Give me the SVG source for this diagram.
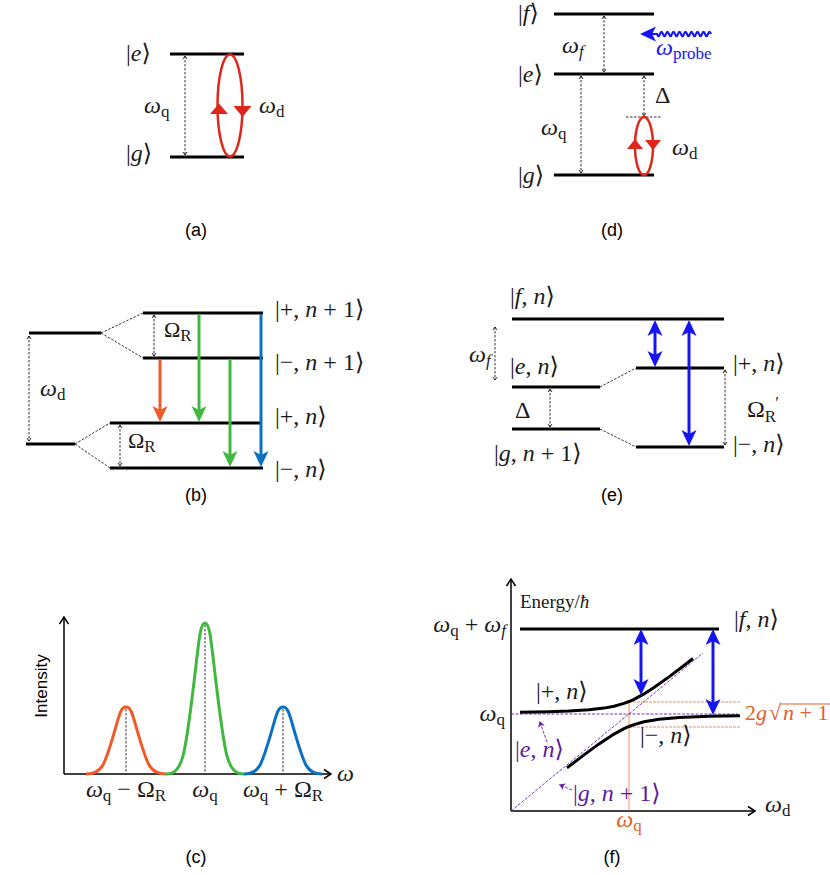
<svg xmlns="http://www.w3.org/2000/svg" width="830" height="875" viewBox="0 0 830 875">
<style>
.lv{stroke:#000;stroke-width:3;fill:none}
.dl{stroke:#000;stroke-width:0.8;stroke-dasharray:2.5,1.5;fill:none}
.da{stroke:#000;stroke-width:0.8;stroke-dasharray:2.5,1.5;fill:none;marker-start:url(#dh);marker-end:url(#dh)}
.ax{stroke:#000;stroke-width:1.5;fill:none;marker-end:url(#axh)}
.m{font-family:"Liberation Serif","DejaVu Serif",serif;font-size:24px;fill:#1a1a1a}
.i{font-style:italic}
.s{font-size:17px}
.cap{font-family:"Liberation Sans",Arial,sans-serif;font-size:18px;fill:#000;text-anchor:middle}
.mid{text-anchor:middle}
.end{text-anchor:end}
</style>
<defs>
<marker id="dh" viewBox="-4 -3 5 6" refX="0" refY="0" markerWidth="5" markerHeight="6" orient="auto-start-reverse" markerUnits="userSpaceOnUse"><path d="M-3,-2 L0,0 L-3,2" fill="none" stroke="#000" stroke-width="0.8"/></marker>
<marker id="axh" viewBox="-9 -6 10 12" refX="0" refY="0" markerWidth="10" markerHeight="12" orient="auto" markerUnits="userSpaceOnUse"><path d="M-7,-4.5 L0,0 L-7,4.5" fill="none" stroke="#000" stroke-width="1.5"/></marker>
<marker id="hOr" viewBox="-16 -8 18 16" refX="-10" refY="0" markerWidth="18" markerHeight="16" orient="auto-start-reverse" markerUnits="userSpaceOnUse"><path d="M-16,-7.5 L0,0 L-16,7.5 L-12,0 Z" fill="#f05a28"/></marker>
<marker id="hGr" viewBox="-16 -8 18 16" refX="-10" refY="0" markerWidth="18" markerHeight="16" orient="auto-start-reverse" markerUnits="userSpaceOnUse"><path d="M-16,-7.5 L0,0 L-16,7.5 L-12,0 Z" fill="#40b840"/></marker>
<marker id="hBl" viewBox="-16 -8 18 16" refX="-10" refY="0" markerWidth="18" markerHeight="16" orient="auto-start-reverse" markerUnits="userSpaceOnUse"><path d="M-16,-7.5 L0,0 L-16,7.5 L-12,0 Z" fill="#0b6fc2"/></marker>
<marker id="hPb" viewBox="-16 -8 18 16" refX="-10" refY="0" markerWidth="18" markerHeight="16" orient="auto-start-reverse" markerUnits="userSpaceOnUse"><path d="M-16,-7.5 L0,0 L-16,7.5 L-12,0 Z" fill="#1515f0"/></marker>
<marker id="hPu" viewBox="-6 -4 7 8" refX="0" refY="0" markerWidth="7" markerHeight="8" orient="auto" markerUnits="userSpaceOnUse"><path d="M-6,-3.5 L0,0 L-6,3.5 L-4.5,0 Z" fill="#6a1fb0"/></marker>
</defs>

<!-- ===== Panel (a) ===== -->
<g id="a-level-e"><line class="lv" x1="170" y1="54" x2="244" y2="54"/><text class="m" x="126" y="61">|<tspan class="i">e</tspan>⟩</text></g>
<g id="a-level-g"><line class="lv" x1="170" y1="157" x2="244" y2="157"/><text class="m" x="126" y="161">|<tspan class="i">g</tspan>⟩</text></g>
<g id="a-connectors">
<line class="da" x1="185" y1="56" x2="185" y2="155"/>
<ellipse cx="230" cy="105.5" rx="12.5" ry="51" fill="none" stroke="#e0261a" stroke-width="2.5"/>
<polygon points="210,114 228,114 219,103.5" fill="#e0261a"/>
<polygon points="233.5,106 251.5,106 242.5,117" fill="#e0261a"/>
</g>
<text class="m" x="144" y="113"><tspan class="i">ω</tspan><tspan class="s" dy="4">q</tspan></text>
<text class="m" x="259" y="113"><tspan class="i">ω</tspan><tspan class="s" dy="4">d</tspan></text>
<text class="cap" x="196" y="236">(a)</text>

<!-- ===== Panel (d) ===== -->
<g id="d-level-f"><line class="lv" x1="554" y1="14" x2="654" y2="14"/><text class="m" x="518" y="21">|<tspan class="i">f</tspan>⟩</text></g>
<g id="d-level-e"><line class="lv" x1="554" y1="74" x2="654" y2="74"/><text class="m" x="518" y="82">|<tspan class="i">e</tspan>⟩</text></g>
<g id="d-level-g"><line class="lv" x1="554" y1="175" x2="654" y2="175"/><text class="m" x="518" y="183">|<tspan class="i">g</tspan>⟩</text></g>
<g id="d-connectors">
<line class="da" x1="604" y1="16" x2="604" y2="72"/>
<line class="da" x1="581" y1="76" x2="581" y2="173"/>
<line class="da" x1="644" y1="76" x2="644" y2="116"/>
<line class="dl" x1="626" y1="117" x2="661" y2="117"/>
<ellipse cx="644" cy="146" rx="9" ry="29" fill="none" stroke="#e0261a" stroke-width="2.5"/>
<polygon points="627,149 643,149 635,139" fill="#e0261a"/>
<polygon points="645,140 661,140 653,150" fill="#e0261a"/>
<path d="M711,34 q-1.5,-4.5 -3,0 t-3,0 t-3,0 t-3,0 t-3,0 t-3,0 t-3,0 t-3,0 t-3,0 t-3,0 t-3,0 t-3,0 t-3,0 t-3,0 t-3,0 t-3,0 t-3,0 t-3,0 l-7,0" fill="none" stroke="#1515f0" stroke-width="2.2" marker-end="url(#hPb)"/>
</g>
<text class="m" x="562" y="53"><tspan class="i">ω</tspan><tspan class="s i" dy="4">f</tspan></text>
<text class="m" x="541" y="135"><tspan class="i">ω</tspan><tspan class="s" dy="4">q</tspan></text>
<text class="m" x="655" y="103">Δ</text>
<text class="m" x="672" y="155"><tspan class="i">ω</tspan><tspan class="s" dy="4">d</tspan></text>
<text class="m" x="656" y="55" style="fill:#1515f0"><tspan class="i">ω</tspan><tspan class="s" dy="4">probe</tspan></text>
<text class="cap" x="612" y="236">(d)</text>

<!-- ===== Panel (b) ===== -->
<g id="b-bare-upper"><line class="lv" x1="29" y1="333" x2="101" y2="333"/></g>
<g id="b-bare-lower"><line class="lv" x1="26" y1="444" x2="75" y2="444"/></g>
<g id="b-plus-n1"><line class="lv" x1="143" y1="313" x2="263" y2="313"/><text class="m" x="275" y="317">|+, <tspan class="i">n</tspan> + 1⟩</text></g>
<g id="b-minus-n1"><line class="lv" x1="143" y1="358" x2="263" y2="358"/><text class="m" x="275" y="370">|−, <tspan class="i">n</tspan> + 1⟩</text></g>
<g id="b-plus-n"><line class="lv" x1="110" y1="423" x2="261" y2="423"/><text class="m" x="275" y="424">|+, <tspan class="i">n</tspan>⟩</text></g>
<g id="b-minus-n"><line class="lv" x1="110" y1="468" x2="263" y2="468"/><text class="m" x="275" y="477">|−, <tspan class="i">n</tspan>⟩</text></g>
<g id="b-connectors">
<line class="da" x1="29" y1="336" x2="29" y2="441"/>
<path class="dl" d="M101,333 L143,313 M101,333 L143,358 M75,444 L110,423 M75,444 L110,468"/>
<line class="da" x1="154" y1="315" x2="154" y2="356"/>
<line class="da" x1="120" y1="425" x2="120" y2="466"/>
<line x1="160" y1="359" x2="160" y2="412" stroke="#f05a28" stroke-width="3" marker-end="url(#hOr)"/>
<line x1="199" y1="314" x2="199" y2="412" stroke="#40b840" stroke-width="3" marker-end="url(#hGr)"/>
<line x1="230" y1="359" x2="230" y2="457" stroke="#40b840" stroke-width="3" marker-end="url(#hGr)"/>
<line x1="261" y1="314" x2="261" y2="457" stroke="#0b6fc2" stroke-width="3" marker-end="url(#hBl)"/>
</g>
<text class="m" x="40" y="396"><tspan class="i">ω</tspan><tspan class="s" dy="4">d</tspan></text>
<text class="m" x="164" y="337" style="font-size:22px">Ω<tspan class="s" dy="4">R</tspan></text>
<text class="m" x="128" y="448" style="font-size:22px">Ω<tspan class="s" dy="4">R</tspan></text>
<text class="cap" x="196" y="501">(b)</text>

<!-- ===== Panel (e) ===== -->
<g id="e-f-n"><line class="lv" x1="512" y1="319" x2="724" y2="319"/><text class="m" x="510" y="304">|<tspan class="i">f</tspan>, <tspan class="i">n</tspan>⟩</text></g>
<g id="e-e-n"><line class="lv" x1="512" y1="387" x2="600" y2="387"/><text class="m" x="510" y="374">|<tspan class="i">e</tspan>, <tspan class="i">n</tspan>⟩</text></g>
<g id="e-g-n1"><line class="lv" x1="512" y1="429" x2="600" y2="429"/><text class="m" x="494" y="461">|<tspan class="i">g</tspan>, <tspan class="i">n</tspan> + 1⟩</text></g>
<g id="e-plus-n"><line class="lv" x1="636" y1="368" x2="724" y2="368"/><text class="m" x="733" y="371">|+, <tspan class="i">n</tspan>⟩</text></g>
<g id="e-minus-n"><line class="lv" x1="636" y1="447" x2="724" y2="447"/><text class="m" x="733" y="452">|−, <tspan class="i">n</tspan>⟩</text></g>
<g id="e-connectors">
<line class="da" x1="495" y1="327" x2="495" y2="380"/>
<line class="da" x1="550" y1="389" x2="550" y2="427"/>
<path class="dl" d="M600,387 L636,368 M600,429 L636,447"/>
<line class="da" x1="725" y1="370" x2="725" y2="445"/>
<line x1="655" y1="330" x2="655" y2="357" stroke="#1515f0" stroke-width="3" marker-start="url(#hPb)" marker-end="url(#hPb)"/>
<line x1="689" y1="330" x2="689" y2="436" stroke="#1515f0" stroke-width="3" marker-start="url(#hPb)" marker-end="url(#hPb)"/>
</g>
<text class="m" x="469" y="362"><tspan class="i">ω</tspan><tspan class="s i" dy="4">f</tspan></text>
<text class="m" x="515" y="418">Δ</text>
<text class="m" x="747" y="417">Ω<tspan class="s" dy="5">R</tspan><tspan class="s" dx="-1" dy="-14">′</tspan></text>
<text class="cap" x="612" y="501">(e)</text>

<!-- ===== Panel (c) ===== -->
<g id="c-axes">
<line class="ax" x1="64" y1="774" x2="64" y2="617"/>
<line class="ax" x1="64" y1="774" x2="331" y2="774"/>
<text x="47" y="686" transform="rotate(-90 47 686)" style="font-family:'Liberation Sans',Arial,sans-serif;font-size:17px;fill:#000" text-anchor="middle">Intensity</text>
<text class="m i" x="337" y="781">ω</text>
</g>
<g id="c-peaks">
<path d="M86,774 C102,774 104.4,765.9 114,733.3 C119.4,715 120.6,707 126,707 C131.4,707 132.6,715 138,733.3 C147.6,765.9 150,774 166,774" fill="none" stroke="#f05a28" stroke-width="3"/>
<path d="M166,774 C183,774 185.2,755.7 194,682.3 C198.95,641.1 200.05,623 205,623 C209.95,623 211.05,641.1 216,682.3 C224.8,755.7 227,774 244,774" fill="none" stroke="#40b840" stroke-width="3"/>
<path d="M244,774 C259,774 261.4,765.9 271,733.3 C276.4,715 277.6,707 283,707 C288.4,707 289.6,715 295,733.3 C304.6,765.9 307,774 322,774" fill="none" stroke="#0b6fc2" stroke-width="3"/>
<path class="dl" d="M126,709 V773 M205,625 V773 M283,709 V773"/>
</g>
<text class="m mid" x="126" y="797"><tspan class="i">ω</tspan><tspan class="s" dy="4">q</tspan><tspan dy="-4"> − Ω</tspan><tspan class="s" dy="4">R</tspan></text>
<text class="m mid" x="205" y="797"><tspan class="i">ω</tspan><tspan class="s" dy="4">q</tspan></text>
<text class="m mid" x="283" y="797"><tspan class="i">ω</tspan><tspan class="s" dy="4">q</tspan><tspan dy="-4"> + Ω</tspan><tspan class="s" dy="4">R</tspan></text>
<text class="cap" x="196" y="863">(c)</text>

<!-- ===== Panel (f) ===== -->
<g id="f-axes">
<line class="ax" x1="511" y1="811" x2="511" y2="579"/>
<line class="ax" x1="511" y1="811" x2="755" y2="811"/>
<text class="m" x="520" y="608" style="font-size:19px">Energy/<tspan class="i">ħ</tspan></text>
<text class="m i" x="765" y="812">ω<tspan class="s" style="font-style:normal" dy="4">d</tspan></text>
</g>
<g id="f-guides">
<path d="M629,702 V811" stroke="#e8743e" stroke-width="0.8" fill="none"/>
<path d="M629,702 H740 M629,727 H740" stroke="#e8743e" stroke-width="0.8" stroke-dasharray="3,1" fill="none"/>
<path d="M511,714 H738 M511,811 L703,653" stroke="#6a1fb0" stroke-width="0.9" stroke-dasharray="3,1.5" fill="none"/>
</g>
<g id="f-level-f"><line class="lv" x1="520" y1="629" x2="719" y2="629"/><text class="m" x="734" y="627">|<tspan class="i">f</tspan>, <tspan class="i">n</tspan>⟩</text></g>
<g id="f-plus-n"><polyline class="lv" points="520,712.3 549,711.7 569,711 589,709.8 604,708.1 614,706.2 624,703.4 629,701.5 634,699.3 644,693.9 654,687.5 669,676.9 684,665.5 693,658.5"/><text class="m" x="536" y="699">|+, <tspan class="i">n</tspan>⟩</text></g>
<g id="f-minus-n"><polyline class="lv" points="567,767.9 584,754.9 599,743.9 614,734.1 624,728.7 629,726.5 634,724.6 644,721.8 659,719.2 679,717.5 709,716.3 740,715.7"/><text class="m" x="640" y="743">|−, <tspan class="i">n</tspan>⟩</text></g>
<g id="f-connectors">
<line x1="641" y1="639" x2="641" y2="685" stroke="#1515f0" stroke-width="3" marker-start="url(#hPb)" marker-end="url(#hPb)"/>
<line x1="713" y1="639" x2="713" y2="705" stroke="#1515f0" stroke-width="3" marker-start="url(#hPb)" marker-end="url(#hPb)"/>
<line x1="547" y1="742" x2="539.5" y2="721" stroke="#6a1fb0" stroke-width="0.9" stroke-dasharray="3,1.5" marker-end="url(#hPu)"/>
<line x1="572" y1="790" x2="559" y2="784.5" stroke="#6a1fb0" stroke-width="0.9" stroke-dasharray="3,1.5" marker-end="url(#hPu)"/>
</g>
<text class="m end" x="506" y="632"><tspan class="i">ω</tspan><tspan class="s" dy="4">q</tspan><tspan dy="-4"> + </tspan><tspan class="i">ω</tspan><tspan class="s i" dy="4">f</tspan></text>
<text class="m end" x="505" y="721"><tspan class="i">ω</tspan><tspan class="s" dy="4">q</tspan></text>
<text class="m" x="515" y="757" style="fill:#5a1a9e">|<tspan class="i">e</tspan>, <tspan class="i">n</tspan>⟩</text>
<text class="m" x="573" y="801" style="fill:#5a1a9e">|<tspan class="i">g</tspan>, <tspan class="i">n</tspan> + 1⟩</text>
<text class="m mid" x="629" y="827" style="fill:#e0602a"><tspan class="i">ω</tspan><tspan class="s" dy="4">q</tspan></text>
<g id="f-splitting-label">
<text class="m" x="745" y="720" style="fill:#e0602a;font-size:22px">2<tspan class="i">g</tspan><tspan dx="2">√</tspan><tspan class="i" dx="2">n</tspan> + 1</text>
<line x1="780" y1="704" x2="830" y2="704" stroke="#e0602a" stroke-width="1"/>
</g>
<text class="cap" x="612" y="863">(f)</text>
</svg>
